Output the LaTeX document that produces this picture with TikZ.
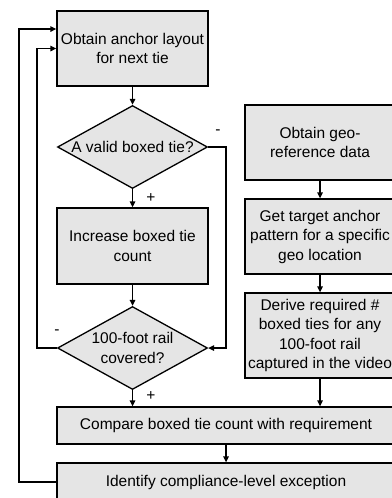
\documentclass[tikz,border=0pt]{standalone}
\usepackage{fontspec}
\setmainfont{Liberation Sans}
\usetikzlibrary{shapes.geometric,arrows.meta}
\begin{document}
\begin{tikzpicture}[x=1pt,y=-1pt,
  every node/.style={font=\fontsize{15.5pt}{19.5pt}\selectfont},
  box/.style={draw=black,line width=1.3pt,fill=black!10,align=center,inner sep=0pt},
  dia/.style={draw=black,line width=1.3pt,fill=black!10,align=center,diamond,aspect=1.8,inner sep=0pt,minimum width=150pt,minimum height=83pt},
  arr/.style={line width=1.3pt,-{Triangle[length=6pt,width=5.5pt]}},
  lbl/.style={inner sep=0pt}]
\useasboundingbox (0,0) rectangle (391,498);
\node[box,minimum width=151pt,minimum height=75pt] (n1) at (132.5,48.5) {Obtain anchor layout\\for next tie};
\node[dia] (d1) at (132.5,147) {A valid boxed tie?};
\node[box,minimum width=151pt,minimum height=76pt] (n3) at (132.5,246) {Increase boxed tie\\count};
\node[dia] (d2) at (132.5,348) {100-foot rail\\covered?};
\node[box,minimum width=338pt,minimum height=37pt] (n5) at (226,425.5) {Compare boxed tie count with requirement};
\node[box,minimum width=338pt,minimum height=38pt] (n6) at (226,482) {Identify compliance-level exception};
\node[box,minimum width=150pt,minimum height=75pt] (r1) at (320,142.5) {Obtain geo-\\reference data};
\node[box,minimum width=150pt,minimum height=75pt] (r2) at (320,236.5) {Get target anchor\\pattern for a specific\\geo location};
\node[box,minimum width=150pt,minimum height=85pt] (r3) at (320,335.5) {Derive required \#\\boxed ties for any\\100-foot rail\\captured in the video};
\coordinate (c1) at (226,147);
\coordinate (c2) at (226,348);
\coordinate (c3) at (37,348);
\coordinate (c4) at (37,48.5);
\coordinate (c5) at (19,482);
\coordinate (c6) at (19,29);
\draw[arr] (n1) -- (d1);
\draw[arr] (d1) -- (n3);
\draw[arr] (n3) -- (d2);
\draw[arr] (d1.east) -- (c1) -- (c2) -- (d2.east);
\draw[arr] (d2.west) -- (c3) -- (c4) -- (n1.west);
\draw[arr] (n6.west) -- (c5) -- (c6) -- (n1.west |- c6);
\draw[arr] (d2.south) -- (d2.south |- n5.north);
\draw[arr] (r1) -- (r2);
\draw[arr] (r2) -- (r3);
\draw[arr] (r3.south) -- (r3.south |- n5.north);
\draw[arr] (n5.south) -- (n6.north);
\node[lbl] (p1) at (151,198) {+};
\node[lbl] (p2) at (151,396) {+};
\node[lbl] (m1) at (218,132) {-};
\node[lbl] (m2) at (57,332) {-};
\end{tikzpicture}
\end{document}
